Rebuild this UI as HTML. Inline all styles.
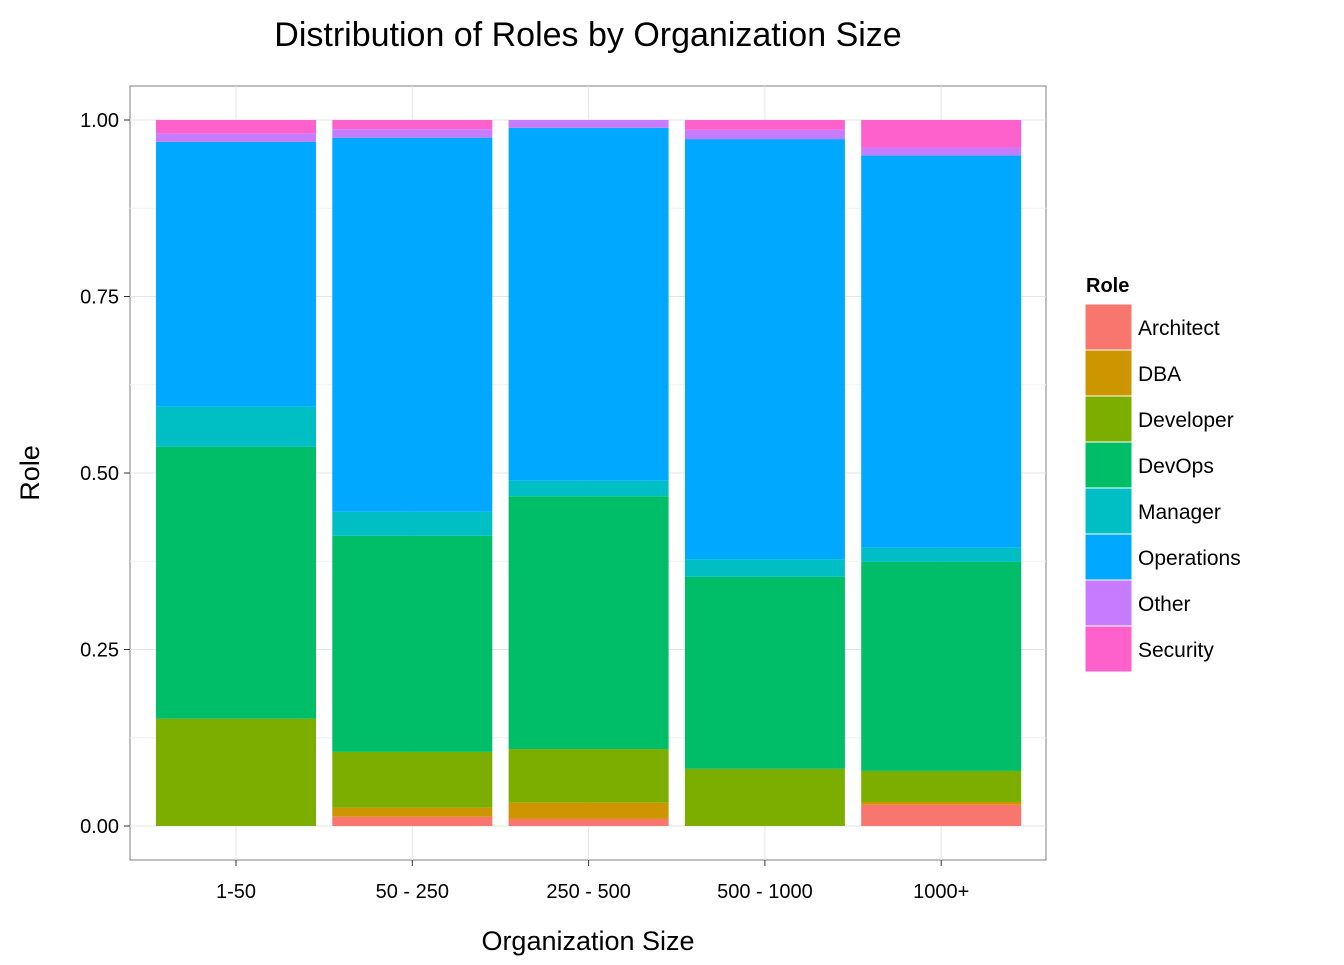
<!DOCTYPE html>
<html><head><meta charset="utf-8"><style>
body{margin:0;background:#fff;font-family:"Liberation Sans",sans-serif}
</style></head><body>
<svg id="c" width="1344" height="960" xmlns="http://www.w3.org/2000/svg" font-family="Liberation Sans, sans-serif">
<text x="588" y="46" font-size="34" text-anchor="middle">Distribution of Roles by Organization Size</text>
<rect x="130" y="86" width="916" height="774" fill="#fff" stroke="#7f7f7f" stroke-width="1"/>
<g id="grid"></g><g id="bars"></g><g id="axes"></g><g id="legend"></g>
<text x="588" y="950" font-size="27" text-anchor="middle">Organization Size</text>
<text transform="translate(39,473) rotate(-90)" font-size="27" text-anchor="middle">Role</text>
</svg>
<script>
const categories=["1-50","50 - 250","250 - 500","500 - 1000","1000+"];
const roles=["Architect","DBA","Developer","DevOps","Manager","Operations","Other","Security"];
const colors=["#F8766D","#CD9600","#7CAE00","#00BE67","#00BFC4","#00A9FF","#C77CFF","#FF61CC"];
const architect=[0,0.013,0.010,0,0.030];
const dba=[0,0.013,0.023,0,0.004];
const developer=[0.152,0.079,0.076,0.081,0.044];
const devops=[0.385,0.306,0.358,0.272,0.296];
const manager=[0.057,0.034,0.022,0.025,0.020];
const operations=[0.375,0.530,0.500,0.595,0.556];
const other=[0.012,0.012,0.011,0.013,0.011];
const security=[0.019,0.013,0,0.014,0.039];
const yTicks=[0,0.25,0.5,0.75,1];
const yTickLabels=["0.00","0.25","0.50","0.75","1.00"];
const series=[architect,dba,developer,devops,manager,operations,other,security];
const NS="http://www.w3.org/2000/svg";
const y=v=>826-v*706;
const x=i=>236+i*176.3;
const bw=160;
function mk(tag,attrs,parent){const e=document.createElementNS(NS,tag);for(const k in attrs)e.setAttribute(k,attrs[k]);document.getElementById(parent).appendChild(e);return e;}
for(let k=0;k<yTicks.length;k++){
  const g=mk("line",{x1:130,x2:1046,y1:y(yTicks[k]),y2:y(yTicks[k]),stroke:"#e5e5e5","stroke-width":1},"grid");
  
  
  if(k<yTicks.length-1){const m=mk("line",{x1:130,x2:1046,y1:y((yTicks[k]+yTicks[k+1])/2),y2:y((yTicks[k]+yTicks[k+1])/2),stroke:"#f2f2f2","stroke-width":1},"grid");
  
  }
  const t=mk("line",{x1:124,x2:130,y1:y(yTicks[k]),y2:y(yTicks[k]),stroke:"#333"},"axes");
  
  
  const l=mk("text",{x:119,y:y(yTicks[k])+7,"font-size":20,"text-anchor":"end"},"axes");l.textContent=yTickLabels[k];
  
  
}
categories.forEach((c,i)=>{
  const g=mk("line",{x1:x(i),x2:x(i),y1:86,y2:860,stroke:"#e5e5e5"},"grid");
  
  
  const t=mk("line",{x1:x(i),x2:x(i),y1:860,y2:866,stroke:"#333"},"axes");
  
  
  const l=mk("text",{x:x(i),y:898,"font-size":20,"text-anchor":"middle"},"axes");l.textContent=c;
  
  
  let cum=0;
  series.forEach((s,r)=>{
    const v=s[i];if(v<=0)return;
    const b=mk("rect",{x:x(i)-bw/2,y:y(cum+v),width:bw,height:y(cum)-y(cum+v),fill:colors[r]},"bars");
    
    
    cum+=v;
  });
});
const lt=mk("text",{x:1086,y:292,"font-size":20,"font-weight":"bold"},"legend");lt.textContent="Role";


roles.forEach((r,i)=>{
  const yy=304+i*46;
  const k=mk("rect",{x:1085,y:yy,width:47,height:46,fill:colors[i],stroke:"#fff","stroke-width":1},"legend");
  
  
  const t=mk("text",{x:1138,y:yy+31,"font-size":21},"legend");t.textContent=r;
  
  
});
</script>
</body></html>
